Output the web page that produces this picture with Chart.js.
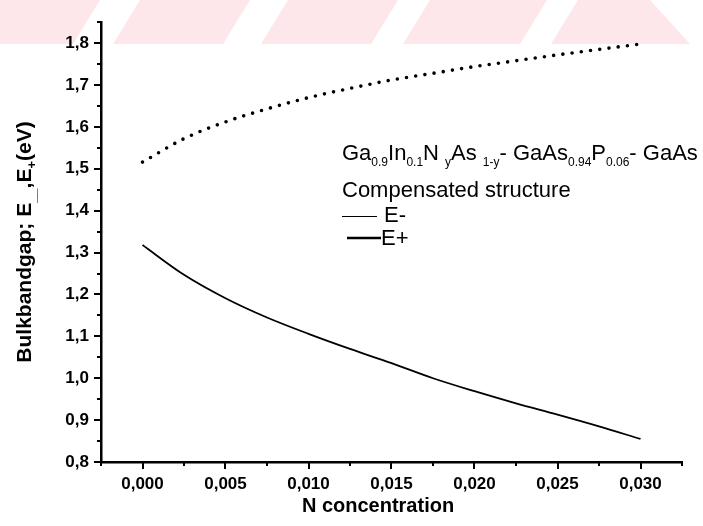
<!DOCTYPE html>
<html><head><meta charset="utf-8">
<script src="https://cdn.jsdelivr.net/npm/chart.js@4.4.1/dist/chart.umd.min.js"></script>
<style>html,body{margin:0;padding:0;background:#fff;overflow:hidden}#wrap{width:703px;height:526px;position:relative}</style>
</head><body><div id="wrap"><canvas id="c" width="703" height="526"></canvas></div>
<script>
// ---- data ----
const nConcentration = [0, 0.0025, 0.005, 0.0075, 0.010, 0.0125, 0.015, 0.0175, 0.020, 0.0225, 0.025, 0.0275, 0.030];
const ePlus  = [1.516, 1.572, 1.612, 1.643, 1.670, 1.692, 1.712, 1.728, 1.744, 1.758, 1.772, 1.785, 1.798];
const eMinus = [1.318, 1.247, 1.191, 1.145, 1.106, 1.070, 1.036, 1.000, 0.969, 0.940, 0.913, 0.885, 0.855];
const xTickValues = [0, 0.005, 0.010, 0.015, 0.020, 0.025, 0.030];
const yTickValues = [0.8, 0.9, 1.0, 1.1, 1.2, 1.3, 1.4, 1.5, 1.6, 1.7, 1.8];
const xRange = [-0.0025, 0.0325];
const yRange = [0.8, 1.85];
const xTitle = 'N concentration';
const legendLine1 = [['Ga'],['0.9',1],['In'],['0.1',1],['N '],['y',1],['As '],['1-y',1],['- GaAs'],['0.94',1],['P'],['0.06',1],['- GaAs']];
const legendLine2 = 'Compensated structure';
const legendLabels = ['E-', 'E+'];

const FONT = '"Liberation Sans", Arial, sans-serif';

function drawRich(ctx, x, y, parts, size, subSize, subDy) {
  let cx = x;
  for (const p of parts) {
    const sub = p[1] === 1;
    ctx.font = (sub ? subSize : size) + 'px ' + FONT;
    ctx.fillText(p[0], cx, sub ? y + subDy : y);
    cx += ctx.measureText(p[0]).width;
  }
  return cx;
}

const bgPlugin = {
  id: 'bg',
  beforeDraw(chart) {
    const ctx = chart.ctx;
    ctx.save();
    ctx.fillStyle = '#ffffff';
    ctx.fillRect(0, 0, chart.width, chart.height);
    // faint pink watermark band at the top of the scan
    const h = 44;
    ctx.fillStyle = '#fde7eb';
    ctx.beginPath();
    ctx.moveTo(0, 0); ctx.lineTo(650, 0); ctx.lineTo(690, h); ctx.lineTo(0, h); ctx.closePath();
    ctx.fill();
    ctx.fillStyle = '#ffffff';
    const stripes = [[100, 140], [250, 288], [398, 430], [547, 578]];
    for (const s of stripes) {
      ctx.beginPath();
      ctx.moveTo(s[0], 0); ctx.lineTo(s[1], 0); ctx.lineTo(s[1] - 27, h); ctx.lineTo(s[0] - 27, h); ctx.closePath();
      ctx.fill();
    }
    ctx.restore();
  }
};

const decoPlugin = {
  id: 'deco',
  afterDraw(chart) {
    const ctx = chart.ctx;
    const xs = chart.scales.x, ys = chart.scales.y;
    const a = chart.chartArea;
    ctx.save();
    ctx.strokeStyle = '#000';
    ctx.fillStyle = '#000';
    ctx.lineWidth = 2;
    // x ticks (major + minor, outward)
    const xMinor = [];
    for (let i = 0; i < xTickValues.length - 1; i++) xMinor.push((xTickValues[i] + xTickValues[i + 1]) / 2);
    const xStep = xTickValues[1] - xTickValues[0];
    xMinor.push(xTickValues[0] - xStep / 2, xTickValues[xTickValues.length - 1] + xStep / 2);
    ctx.beginPath();
    for (const v of xTickValues) { const p = Math.round(xs.getPixelForValue(v)); ctx.moveTo(p, a.bottom); ctx.lineTo(p, a.bottom + 7); }
    for (const v of xMinor) { if (v < xRange[0] - 1e-9 || v > xRange[1] + 1e-9) continue; const p = Math.round(xs.getPixelForValue(v)); ctx.moveTo(p, a.bottom); ctx.lineTo(p, a.bottom + 4); }
    // y ticks
    const yMinor = [];
    for (let i = 0; i < yTickValues.length - 1; i++) yMinor.push((yTickValues[i] + yTickValues[i + 1]) / 2);
    const yStep = yTickValues[1] - yTickValues[0];
    yMinor.push(yTickValues[yTickValues.length - 1] + yStep / 2);
    for (const v of yTickValues) { const p = Math.round(ys.getPixelForValue(v)); ctx.moveTo(a.left, p); ctx.lineTo(a.left - 7, p); }
    for (const v of yMinor) { if (v > yRange[1] + 1e-9) continue; const p = Math.round(ys.getPixelForValue(v)); ctx.moveTo(a.left, p); ctx.lineTo(a.left - 4, p); }
    ctx.stroke();

    // x title
    ctx.font = 'bold 20px ' + FONT;
    ctx.textAlign = 'center';
    ctx.textBaseline = 'alphabetic';
    ctx.fillText(xTitle, 378, 512);

    // y title (rotated, with subscripts)
    ctx.save();
    ctx.translate(31, 242);
    ctx.rotate(-Math.PI / 2);
    const yParts = [['Bulkbandgap; E'], ['__', 1], [',E'], ['+', 1], ['(eV)']];
    ctx.textAlign = 'left';
    const big = 21, small = 13;
    let w = 0;
    for (const p of yParts) { ctx.font = 'bold ' + (p[1] ? small : big) + 'px ' + FONT; w += ctx.measureText(p[0]).width; }
    let cx = -w / 2;
    for (const p of yParts) {
      ctx.font = 'bold ' + (p[1] ? small : big) + 'px ' + FONT;
      ctx.fillText(p[0], cx, p[1] ? 5 : 0);
      cx += ctx.measureText(p[0]).width;
    }
    ctx.restore();

    // text legend
    ctx.textAlign = 'left';
    drawRich(ctx, 342, 160, legendLine1, 22, 12, 6);
    ctx.font = '22px ' + FONT;
    ctx.fillText(legendLine2, 342, 197);
    // legend sample lines
    ctx.lineWidth = 1;
    ctx.beginPath(); ctx.moveTo(342, 216.5); ctx.lineTo(377, 216.5); ctx.stroke();
    ctx.fillText(legendLabels[0], 384, 222);
    ctx.lineWidth = 2.5;
    ctx.beginPath(); ctx.moveTo(347, 238); ctx.lineTo(381, 238); ctx.stroke();
    ctx.fillText(legendLabels[1], 381, 245);
    ctx.restore();
  }
};

const fmt = (v, d) => Number(v).toFixed(d).replace('.', ',');

new Chart(document.getElementById('c'), {
  type: 'line',
  data: {
    labels: nConcentration,
    datasets: [
      {
        label: legendLabels[1],
        data: nConcentration.map((x, i) => ({ x, y: ePlus[i] })),
        borderColor: '#000',
        borderWidth: 3.6,
        borderDash: [0, 9.3],
        borderCapStyle: 'round',
        pointRadius: 0,
        cubicInterpolationMode: 'monotone',
        fill: false
      },
      {
        label: legendLabels[0],
        data: nConcentration.map((x, i) => ({ x, y: eMinus[i] })),
        borderColor: '#000',
        borderWidth: 1.8,
        pointRadius: 0,
        cubicInterpolationMode: 'monotone',
        fill: false
      }
    ]
  },
  options: {
    responsive: false,
    animation: false,
    devicePixelRatio: 1,
    layout: { padding: { top: 13, right: 21, left: 0, bottom: 0 } },
    plugins: { legend: { display: false }, tooltip: { enabled: false } },
    scales: {
      x: {
        type: 'linear',
        min: xRange[0], max: xRange[1],
        afterBuildTicks: s => { s.ticks = xTickValues.map(v => ({ value: v })); },
        afterFit: s => { s.height = 64; },
        grid: { display: false, drawTicks: false },
        border: { display: true, color: '#000', width: 2.5 },
        ticks: { color: '#000', padding: 12, maxRotation: 0, autoSkip: false, font: { family: FONT, size: 17, weight: 'bold' }, callback: v => fmt(v, 3) }
      },
      y: {
        type: 'linear',
        min: yRange[0], max: yRange[1],
        afterBuildTicks: s => { s.ticks = yTickValues.map(v => ({ value: v })); },
        afterFit: s => { s.width = 101; },
        grid: { display: false, drawTicks: false },
        border: { display: true, color: '#000', width: 2.5 },
        ticks: { color: '#000', padding: 12, autoSkip: false, font: { family: FONT, size: 17, weight: 'bold' }, callback: v => fmt(v, 1) }
      }
    }
  },
  plugins: [bgPlugin, decoPlugin]
});
</script>
</body></html>
